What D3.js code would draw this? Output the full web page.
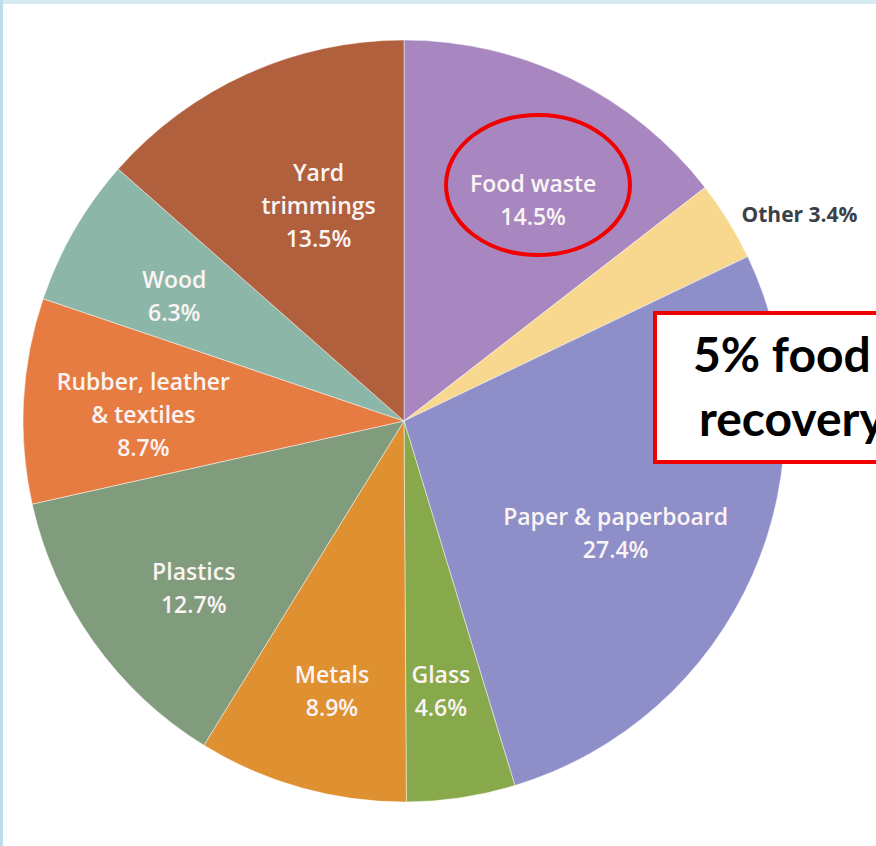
<!DOCTYPE html>
<html>
<head>
<meta charset="utf-8">
<script src="https://cdn.jsdelivr.net/npm/d3@7"></script>
<style>
  html, body { margin: 0; padding: 0; background: #fff; }
  svg { display: block; }
</style>
</head>
<body>
<svg id="chart" width="876" height="846"></svg>
<script>
// MSW composition, clockwise from 12 o'clock
const categories = ["Food waste", "Other", "Paper & paperboard", "Glass", "Metals",
                    "Plastics", "Rubber, leather & textiles", "Wood", "Yard trimmings"];
const shares = [14.5, 3.4, 27.4, 4.6, 8.9, 12.7, 8.7, 6.3, 13.5];
const labelLines = [
  ["Food waste"], ["Other"], ["Paper & paperboard"], ["Glass"], ["Metals"],
  ["Plastics"], ["Rubber, leather", "& textiles"], ["Wood"], ["Yard", "trimmings"]
];
const calloutLines = ["5% food", "recovery"];

const colors = ["#a887c0", "#f8d88e", "#8e8ec8", "#87a94b", "#df9031",
                "#819b7d", "#e77c42", "#8cb7a8", "#b1603e"];
// label placement: distance from centre plus a small nudge (px)
const labelPlace = {
  "Food waste":                 { r: 255, dx: 17,  dy: 8 },
  "Other":                      { r: 406, dx: -8,  dy: 7 },
  "Paper & paperboard":         { r: 240, dx: -8,  dy: 16 },
  "Glass":                      { r: 272, dx: -4,  dy: 2 },
  "Metals":                     { r: 278, dx: 3,   dy: 3 },
  "Plastics":                   { r: 268, dx: 8,   dy: 12 },
  "Rubber, leather & textiles": { r: 262, dx: 1,   dy: 8 },
  "Wood":                       { r: 262, dx: -3,  dy: 7 },
  "Yard trimmings":             { r: 232, dx: 10,  dy: -4 }
};

const svg = d3.select("#chart");
const cx = 404, cy = 421, radius = 381;

// light blue frame on the left and top
svg.append("rect").attr("x", 0).attr("y", 0).attr("width", 876).attr("height", 846).attr("fill", "#fff");
svg.append("rect").attr("x", 0).attr("y", 0).attr("width", 876).attr("height", 4).attr("fill", "#d6eaf2");
svg.append("rect").attr("x", 0).attr("y", 0).attr("width", 3).attr("height", 846).attr("fill", "#bcdde9");

const data = categories.map((c, i) => ({ name: c, value: shares[i], lines: labelLines[i], color: colors[i] }));

const pie = d3.pie().sort(null).value(d => d.value);
const arc = d3.arc().innerRadius(0).outerRadius(radius);
const slices = pie(data);

const g = svg.append("g").attr("transform", "translate(" + cx + "," + cy + ")");

g.selectAll("path.slice")
  .data(slices)
  .enter().append("path")
    .attr("class", "slice")
    .attr("d", arc)
    .attr("fill", d => d.data.color)
    .attr("stroke", "rgba(255,255,255,0.45)")
    .attr("stroke-width", 1);

const font = "'Open Sans', 'DejaVu Sans', sans-serif";
const lineH = 33;
const pct = v => d3.format(".1f")(v) + "%";

function labelPos(d) {
  const p = labelPlace[d.data.name];
  const a = (d.startAngle + d.endAngle) / 2;
  return [p.r * Math.sin(a) + p.dx, -p.r * Math.cos(a) + p.dy];
}

// labels inside the slices
slices.filter(d => d.data.name !== "Other").forEach(d => {
  const [x, y] = labelPos(d);
  const lines = d.data.lines.concat([pct(d.value)]);
  const t = g.append("text")
    .attr("text-anchor", "middle")
    .attr("font-family", font)
    .attr("font-weight", 600)
    .attr("font-size", 23)
    .attr("fill", "#fbf4f4");
  lines.forEach((ln, i) => {
    t.append("tspan")
      .attr("x", x)
      .attr("y", y + (i - (lines.length - 1) / 2) * lineH)
      .attr("dy", "0.35em")
      .text(ln);
  });
});

// "Other" sits outside the pie
const other = slices.find(d => d.data.name === "Other");
const [ox, oy] = labelPos(other);
g.append("text")
  .attr("x", ox)
  .attr("y", oy)
  .attr("dy", "0.35em")
  .attr("font-family", font)
  .attr("font-weight", 700)
  .attr("font-size", 21)
  .attr("fill", "#3b4147")
  .text(other.data.lines[0] + " " + pct(other.value));

// red circle round the food waste label
svg.append("ellipse")
  .attr("cx", 538).attr("cy", 185)
  .attr("rx", 92).attr("ry", 70)
  .attr("fill", "none")
  .attr("stroke", "#f20000")
  .attr("stroke-width", 4);

// callout box, runs off the right edge as in the source slide
svg.append("rect")
  .attr("x", 655).attr("y", 313)
  .attr("width", 280).attr("height", 149)
  .attr("fill", "#fff")
  .attr("stroke", "#f20000")
  .attr("stroke-width", 4);

const callout = svg.append("text")
  .attr("font-family", "Lato, 'Open Sans', sans-serif")
  .attr("font-weight", 700)
  .attr("font-size", 48)
  .attr("fill", "#000");
callout.append("tspan").attr("x", 693).attr("y", 372).text(calloutLines[0]);
callout.append("tspan").attr("x", 699).attr("y", 436).text(calloutLines[1]);
</script>
</body>
</html>
